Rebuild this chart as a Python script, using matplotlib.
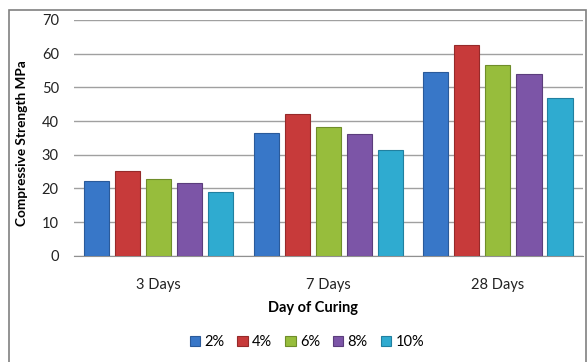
import matplotlib
matplotlib.use("Agg")
import matplotlib.pyplot as plt
import numpy as np
from matplotlib.patches import Rectangle

categories = ["3 Days", "7 Days", "28 Days"]
series_names = ["2%", "4%", "6%", "8%", "10%"]
s2 = [22.3, 36.6, 54.6]
s4 = [25.1, 42.0, 62.6]
s6 = [22.8, 38.3, 56.7]
s8 = [21.5, 36.2, 53.9]
s10 = [19.0, 31.5, 46.9]
yticks = [0, 10, 20, 30, 40, 50, 60, 70]

colors = ["#3877c8", "#c73a3a", "#97bd3c", "#7c55a7", "#2fabd0"]
edges = ["#2a5a9a", "#962a2a", "#6f8d2a", "#5b3d7c", "#2180a0"]

plt.rcParams['font.family'] = ['Lato', 'DejaVu Sans']
fig = plt.figure(figsize=(5.88, 3.62), dpi=100)
ax = fig.add_axes([0.126, 0.293, 0.865, 0.652])

x = np.arange(len(categories))
w = 0.148
step = 0.183
for i, (name, vals) in enumerate(zip(series_names, [s2, s4, s6, s8, s10])):
    ax.bar(x + (i - 2) * step, vals, width=w, color=colors[i], edgecolor=edges[i],
           linewidth=0.8, label=name, zorder=3)

ax.set_xlim(-0.5, 2.5)
ax.set_ylim(0, 70)
ax.set_yticks(yticks)
ax.yaxis.grid(True, color="#a0a0a0", linewidth=1)
ax.set_axisbelow(True)
for s in ["top", "right", "left"]:
    ax.spines[s].set_visible(False)
ax.spines["bottom"].set_color("#909090")
ax.tick_params(axis="both", length=0, labelsize=10.5, colors="#222222")
ax.tick_params(axis="y", pad=11)
ax.tick_params(axis="x", pad=16)
ax.set_xticks(x)
ax.set_xticklabels(categories)
ax.set_xlabel("Day of Curing", fontsize=10.5, fontweight="bold")
ax.xaxis.set_label_coords(0.47, -0.19)
ax.set_ylabel("Compressive Strength MPa", fontsize=9.8, fontweight="bold")
ax.yaxis.set_label_coords(-0.09, 0.48)

leg = fig.legend(loc="center", bbox_to_anchor=(0.522, 0.055), ncol=5, frameon=False,
                 fontsize=10.5, handlelength=0.7, handleheight=0.7, handletextpad=0.3,
                 columnspacing=0.9)

fig.patches.append(Rectangle((9/588, -0.05), (586-9)/588, 1 - 10/362 + 0.05,
                             transform=fig.transFigure, fill=False,
                             edgecolor="#808080", linewidth=1.2))
fig.savefig("out.png", dpi=100)
